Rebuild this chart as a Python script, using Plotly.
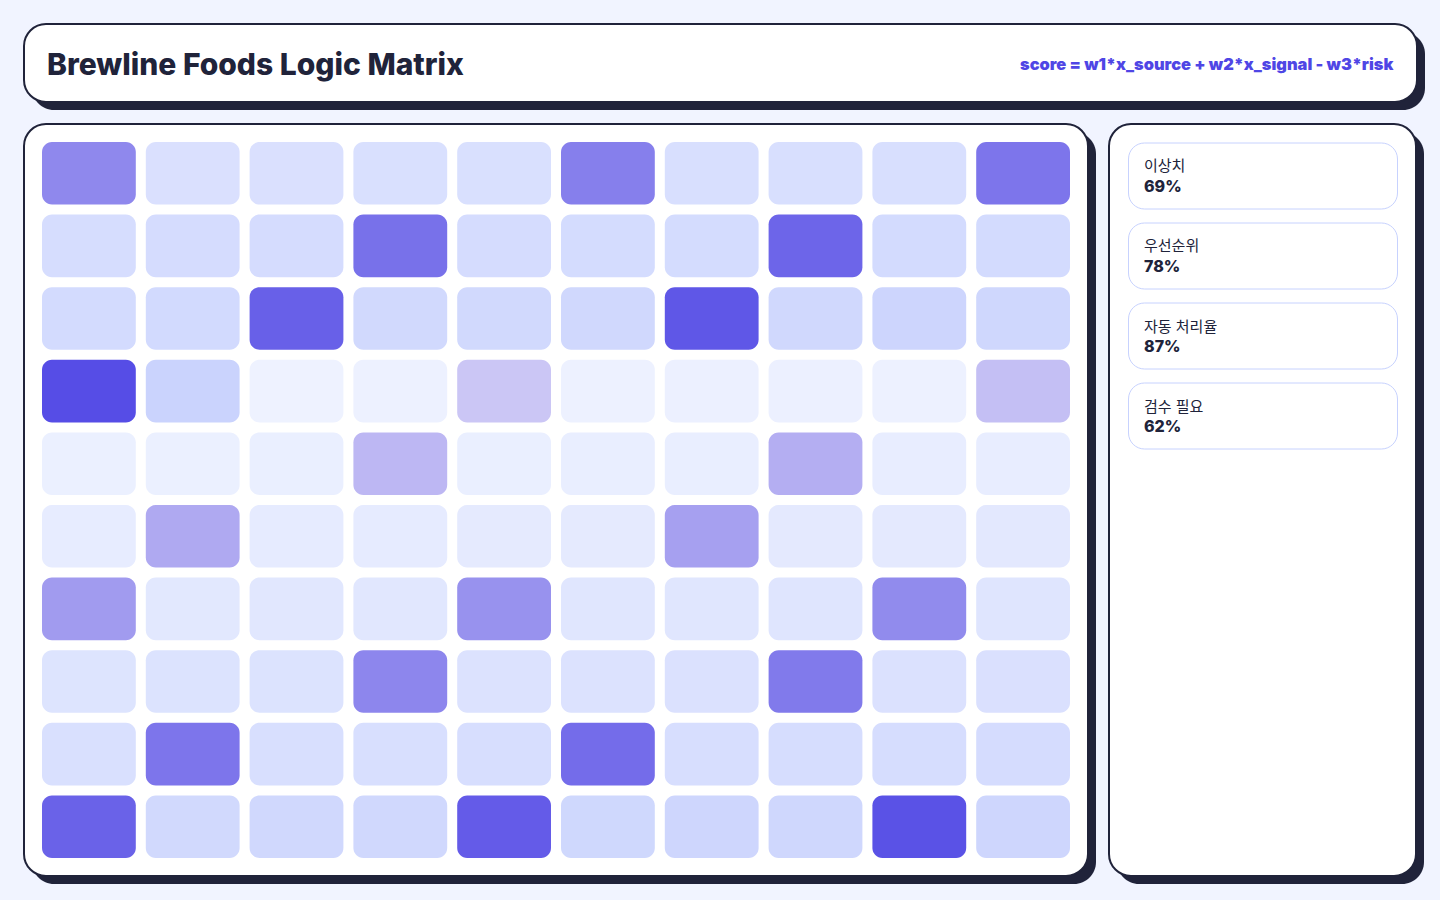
import plotly.graph_objects as go
from plotly.colors import sample_colorscale, hex_to_rgb

# ---------------- data ----------------
title_text = "Brewline Foods Logic Matrix"
formula_text = "score = w1*x_source + w2*x_signal - w3*risk"

row_ids = list(range(10))
col_ids = list(range(10))

matrix_values = [
    [72, 22, 22, 23, 23, 76, 24, 24, 24, 80],
    [26, 27, 27, 82, 27, 28, 28, 87, 29, 29],
    [29, 30, 89, 31, 31, 32, 93, 32, 36, 34],
    [97, 39, 0, 1, 46, 1, 2, 2, 1, 49],
    [3, 3, 4, 52, 4, 5, 5, 56, 6, 6],
    [8, 58, 9, 9, 10, 10, 62, 11, 11, 12],
    [64, 13, 14, 14, 68, 15, 15, 16, 71, 16],
    [18, 19, 19, 73, 20, 20, 21, 78, 21, 22],
    [23, 80, 24, 24, 25, 84, 25, 26, 26, 27],
    [88, 31, 32, 32, 91, 33, 35, 34, 95, 35],
]

stat_labels = ["이상치", "우선순위", "자동 처리율", "검수 필요"]
stat_values = [69, 78, 87, 62]

# ---------------- style ----------------
W, H = 1440, 900
BG = "#f1f4ff"
INK = "#20233a"
ACCENT = "#4f46e5"
STAT_BORDER = "#c7d2fe"

scale_hex = [(0.0, "#eef2ff"), (0.4, "#c9d2fd"), (0.45, "#cdc8f5"), (1.0, "#4f46e5")]
colorscale = [[p, "rgb(%d, %d, %d)" % hex_to_rgb(c)] for p, c in scale_hex]
ZMIN, ZMAX = 0, 100

K = 0.5523


def rrect(x0, x1, y0, y1, rx, ry):
    """Rounded rectangle path with x0<x1, y0<y1."""
    return (
        f"M{x0+rx},{y0} L{x1-rx},{y0} "
        f"C{x1-rx+K*rx},{y0} {x1},{y0+ry-K*ry} {x1},{y0+ry} "
        f"L{x1},{y1-ry} "
        f"C{x1},{y1-ry+K*ry} {x1-rx+K*rx},{y1} {x1-rx},{y1} "
        f"L{x0+rx},{y1} "
        f"C{x0+rx-K*rx},{y1} {x0},{y1-ry+K*ry} {x0},{y1-ry} "
        f"L{x0},{y0+ry} "
        f"C{x0},{y0+ry-K*ry} {x0+rx-K*rx},{y0} {x0+rx},{y0} Z"
    )


def px_rect(x0, y0, x1, y1, r):
    return rrect(x0 / W, x1 / W, 1 - y1 / H, 1 - y0 / H, r / W, r / H)


shapes = []


def card(x0, y0, x1, y1, r, shadow=8, border=2, fill="white", line=INK):
    if shadow:
        shapes.append(dict(type="path", xref="paper", yref="paper", layer="below",
                           path=px_rect(x0 + shadow, y0 + shadow, x1 + shadow, y1 + shadow, r),
                           fillcolor=INK, line=dict(width=0)))
    shapes.append(dict(type="path", xref="paper", yref="paper", layer="below",
                       path=px_rect(x0, y0, x1, y1, r),
                       fillcolor=fill, line=dict(color=line, width=border)))


# header, matrix panel, side panel
card(24, 24, 1417, 102, 22)
card(24, 124, 1088, 876, 22)
card(1109, 124, 1416, 876, 22)

# stat cards
stat_tops = [143, 223, 303, 383]
for t in stat_tops:
    card(1128.5, t, 1397.5, t + 66, 16, shadow=0, border=1, line=STAT_BORDER)

# ---------------- matrix cells ----------------
PX = 103.8   # px per column pitch
PY = 72.6    # px per row pitch
GAP = 10
hw = (PX - GAP) / 2 / PX
hh = (PY - GAP) / 2 / PY
rx = 10 / PX
ry = 10 / PY

for i, r in enumerate(row_ids):
    cols_colors = sample_colorscale(colorscale, [(v - ZMIN) / (ZMAX - ZMIN) for v in matrix_values[i]])
    for j, c in enumerate(col_ids):
        shapes.append(dict(type="path", xref="x", yref="y", layer="above",
                           path=rrect(c - hw, c + hw, r - hh, r + hh, rx, ry),
                           fillcolor=cols_colors[j], line=dict(width=0)))

fig = go.Figure()
fig.add_trace(go.Heatmap(
    z=matrix_values, x=col_ids, y=row_ids, colorscale=colorscale, zmin=ZMIN, zmax=ZMAX,
    showscale=False, opacity=0, xgap=GAP, ygap=GAP,
    hovertemplate="row %{y}, col %{x}: %{z}<extra></extra>",
))

annotations = [
    dict(text=title_text, x=45 / W, y=1 - 64 / H, xref="paper", yref="paper",
         xanchor="left", yanchor="middle", showarrow=False,
         font=dict(family="Inter", size=30, weight=800, color=INK)),
    dict(text=formula_text, x=1395 / W, y=1 - 64 / H, xref="paper", yref="paper",
         xanchor="right", yanchor="middle", showarrow=False,
         font=dict(family="Inter", size=16.4, weight=900, color=ACCENT)),
]
for t, lab, val in zip(stat_tops, stat_labels, stat_values):
    annotations.append(dict(text=lab, x=1142 / W, y=1 - (t + 23) / H, xref="paper", yref="paper",
                            xanchor="left", yanchor="middle", showarrow=False,
                            font=dict(family="Inter, Noto Sans CJK KR", size=15, color=INK)))
    annotations.append(dict(text=f"{val}%", x=1142 / W, y=1 - (t + 43) / H, xref="paper", yref="paper",
                            xanchor="left", yanchor="middle", showarrow=False,
                            font=dict(family="Inter", size=16, weight=800, color=INK)))

fig.update_layout(
    width=W, height=H,
    margin=dict(l=0, r=0, t=0, b=0, pad=0),
    paper_bgcolor=BG, plot_bgcolor="rgba(0,0,0,0)",
    shapes=shapes, annotations=annotations,
    xaxis=dict(domain=[42 / W, 1070 / W], range=[-hw, 9 + hw], visible=False, fixedrange=True),
    yaxis=dict(domain=[1 - 858 / H, 1 - 142 / H], range=[9 + hh, -hh], visible=False, fixedrange=True),
    showlegend=False,
)

fig.write_html(
    "out.html",
    config={"displayModeBar": False},
    post_script="document.body.style.margin='0';document.body.style.background='%s';" % BG,
)
